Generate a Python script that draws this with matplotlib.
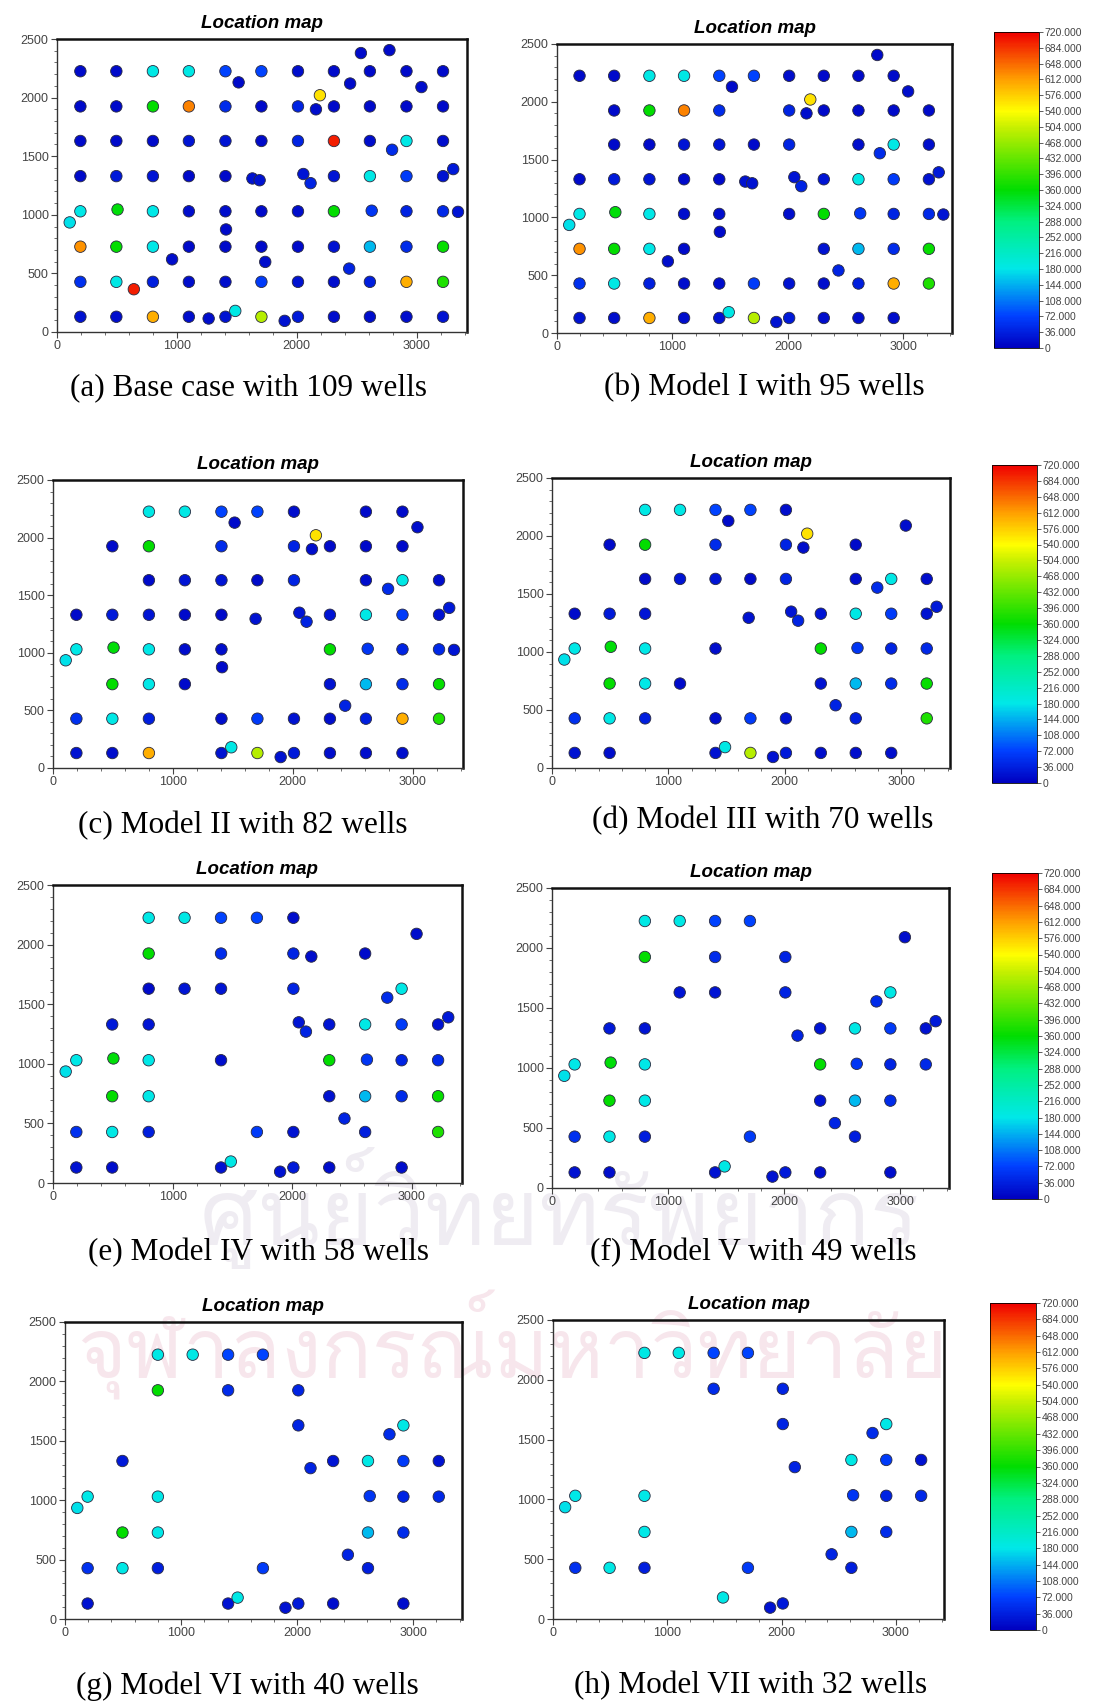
import numpy as np
import matplotlib.pyplot as plt
from matplotlib.colors import LinearSegmentedColormap, Normalize
from matplotlib.cm import ScalarMappable
from matplotlib import font_manager
from matplotlib.ft2font import FT2Font

# base case wells: x, y and colour value (0-720)
well_x = [195, 495, 800, 1100, 1405, 1705, 2010, 2310, 2610, 2915, 3220,
          1515, 2445, 2535, 2773, 3040, 2193,
          195, 495, 800, 1100, 1405, 1705, 2010, 2160, 2310, 2610, 2915, 3220,
          195, 495, 800, 1100, 1405, 1705, 2010, 2310, 2610, 2915, 3220, 2795,
          195, 495, 800, 1100, 1405, 1630, 1690, 2055, 2115, 2310, 2610, 2915, 3220, 3305,
          106, 195, 505, 800, 1100, 1405, 1705, 2010, 2310, 2625, 2915, 3220, 3345, 1410,
          195, 495, 800, 1100, 1405, 1705, 2010, 2310, 2610, 2915, 3220, 960, 1737, 2437,
          195, 495, 641, 800, 1100, 1405, 1705, 2010, 2310, 2610, 2915, 3220,
          195, 495, 800, 1100, 1265, 1405, 1487, 1705, 1899, 2010, 2310, 2610, 2915, 3220]
well_y = [2225, 2225, 2225, 2225, 2225, 2225, 2225, 2225, 2225, 2225, 2225,
          2130, 2120, 2380, 2405, 2090, 2020,
          1925, 1925, 1925, 1925, 1925, 1925, 1925, 1900, 1925, 1925, 1925, 1925,
          1630, 1630, 1630, 1630, 1630, 1630, 1630, 1630, 1630, 1630, 1630, 1555,
          1330, 1330, 1330, 1330, 1330, 1310, 1295, 1348, 1270, 1330, 1330, 1330, 1330, 1390,
          935, 1030, 1045, 1030, 1030, 1030, 1030, 1030, 1030, 1035, 1030, 1030, 1025, 875,
          728, 728, 728, 728, 728, 728, 728, 728, 728, 728, 728, 620, 598, 541,
          428, 428, 365, 428, 428, 428, 428, 428, 428, 428, 428, 428,
          130, 130, 130, 130, 115, 130, 180, 130, 95, 130, 130, 130, 130, 130]
well_v = [12, 12, 185, 185, 75, 75, 15, 12, 12, 12, 12,
          12, 12, 12, 12, 15, 560,
          12, 12, 360, 630, 50, 12, 40, 15, 12, 12, 12, 12,
          12, 12, 12, 25, 25, 12, 40, 700, 15, 185, 15, 50,
          12, 30, 25, 12, 12, 20, 20, 25, 40, 25, 185, 65, 20, 30,
          175, 180, 355, 180, 15, 15, 12, 15, 360, 60, 40, 45, 25, 12,
          620, 360, 180, 12, 12, 12, 12, 20, 150, 50, 365, 15, 15, 40,
          55, 185, 700, 35, 15, 15, 65, 20, 15, 35, 600, 380,
          20, 15, 600, 15, 15, 20, 185, 490, 20, 30, 15, 15, 15, 20]

# wells kept in each model (indices into the base case)
removed_model1 = [10, 12, 13, 17, 22, 29, 36, 61, 73, 74, 75, 81, 85, 99, 108]
keep_base = list(range(len(well_x)))
keep_model1 = [i for i in keep_base if i not in removed_model1]
keep_model2 = [2, 3, 4, 5, 6, 8, 9, 11, 15, 16,
               18, 19, 21, 23, 24, 25, 26, 27,
               31, 32, 33, 34, 35, 37, 38, 39, 40,
               41, 42, 43, 44, 45, 47, 48, 49, 50, 51, 52, 53, 54,
               55, 56, 57, 58, 59, 60, 63, 64, 65, 66, 67, 68,
               70, 71, 72, 76, 77, 78, 79, 82,
               83, 84, 86, 88, 89, 90, 91, 92, 93, 94,
               95, 96, 97, 100, 101, 102, 103, 104, 105, 106, 107]
keep_model3 = [2, 3, 4, 5, 6, 11, 15, 16,
               18, 19, 21, 23, 24, 26,
               31, 32, 33, 34, 35, 37, 38, 39, 40,
               41, 42, 43, 47, 48, 49, 50, 51, 52, 53, 54,
               55, 56, 57, 58, 60, 63, 64, 65, 66,
               70, 71, 72, 76, 77, 78, 79, 82,
               83, 84, 86, 88, 89, 90, 92, 94,
               95, 96, 100, 101, 102, 103, 104, 105, 106, 107]
keep_model4 = [2, 3, 4, 5, 6, 15,
               19, 21, 23, 24, 26,
               31, 32, 33, 35, 38, 40,
               42, 43, 48, 49, 50, 51, 52, 53, 54,
               55, 56, 57, 58, 60, 63, 64, 65, 66,
               70, 71, 76, 77, 78, 79, 82,
               83, 84, 86, 89, 90, 92, 94,
               95, 96, 100, 101, 103, 104, 105, 107]
keep_model5 = [2, 3, 4, 5, 15,
               19, 21, 23,
               32, 33, 35, 38, 40,
               42, 43, 49, 50, 51, 52, 53, 54,
               55, 56, 57, 58, 63, 64, 65, 66,
               70, 71, 76, 77, 78, 82,
               83, 84, 86, 89, 92,
               95, 96, 100, 101, 103, 104, 105, 107]
keep_model6 = [2, 3, 4, 5,
               19, 21, 23,
               35, 38, 40,
               42, 49, 50, 51, 52, 53,
               55, 56, 58, 64, 65, 66,
               70, 71, 77, 78, 82,
               83, 84, 86, 89, 92,
               95, 100, 101, 103, 104, 105, 107]
keep_model7 = [2, 3, 4, 5,
               21, 23,
               35, 38, 40,
               49, 51, 52, 53,
               55, 56, 58, 64, 65, 66,
               71, 77, 78,
               82, 83, 84, 86, 89, 92,
               101, 103, 104]

captions = ["(a) Base case with 109 wells", "(b) Model I with 95 wells",
            "(c) Model II with 82 wells", "(d) Model III with 70 wells",
            "(e) Model IV with 58 wells", "(f) Model V with 49 wells",
            "(g) Model VI with 40 wells", "(h) Model VII with 32 wells"]
keeps = [keep_base, keep_model1, keep_model2, keep_model3,
         keep_model4, keep_model5, keep_model6, keep_model7]
cbar_ticks = [0, 36, 72, 108, 144, 180, 216, 252, 288, 324, 360,
              396, 432, 468, 504, 540, 576, 612, 648, 684, 720]
watermark_lines = ["ศูนย์วิทยทรัพยากร", "จุฬาลงกรณ์มหาวิทยาลัย"]

W, H = 1099, 1707


def box(l, t, r, b):
    return [l / W, 1 - b / H, (r - l) / W, (b - t) / H]


# pixel boxes: left, top, right, bottom
panel_px = [(57, 39, 467, 332), (557, 44, 952, 333),
            (53, 480, 463, 768), (552, 478, 950, 768),
            (53, 885, 462, 1183), (552, 888, 949, 1188),
            (65, 1322, 462, 1619), (553, 1320, 944, 1619)]
caption_px = [(249, 388), (764, 388), (243, 826), (763, 821),
              (259, 1253), (753, 1253), (247, 1686), (751, 1686)]
cbar_px = [(994, 32, 1039, 348), (992, 465, 1037, 783),
           (992, 873, 1038, 1199), (990, 1303, 1036, 1630)]

cmap = LinearSegmentedColormap.from_list("wells", [
    (0.0, "#0000c0"), (0.1, "#0040ff"), (0.2, "#00b0f0"), (0.25, "#00e8e8"),
    (0.4, "#00f080"), (0.5, "#00dd00"), (0.7, "#c8f000"), (0.75, "#ffff00"),
    (0.85, "#ffa000"), (1.0, "#f00000")])
norm = Normalize(0, 720)

fig = plt.figure(figsize=(W / 100, H / 100), dpi=100)

# faint watermark, only if a Thai-capable font is installed
thai_font = None
for f in font_manager.fontManager.ttflist:
    try:
        if FT2Font(f.fname).get_char_index(ord("ก")):
            thai_font = f.name
            break
    except Exception:
        pass
if thai_font:
    fig.text(560 / W, 1 - 1208 / H, watermark_lines[0], family=thai_font,
             fontsize=66, color="#efecf2", ha="center", va="center", zorder=-5)
    fig.text(512 / W, 1 - 1345 / H, watermark_lines[1], family=thai_font,
             fontsize=60, color="#f7e6ec", ha="center", va="center", zorder=-5)

xs = np.array(well_x)
ys = np.array(well_y)
vs = np.array(well_v)

for k in range(8):
    ax = fig.add_axes(box(*panel_px[k]))
    ax.patch.set_alpha(0)
    idx = keeps[k]
    ax.scatter(xs[idx], ys[idx], c=vs[idx], cmap=cmap, norm=norm, s=68,
               edgecolors="#2a2a40", linewidths=0.6, zorder=3)
    ax.set_xlim(0, 3420)
    ax.set_ylim(0, 2500)
    ax.set_xticks([0, 1000, 2000, 3000])
    ax.set_xticks(np.arange(0, 3401, 200), minor=True)
    ax.set_yticks([0, 500, 1000, 1500, 2000, 2500])
    ax.set_yticks(np.arange(0, 2501, 100), minor=True)
    ax.tick_params(which="major", length=4, width=0.8, color="#444",
                   labelsize=9, labelcolor="#444", pad=2)
    ax.tick_params(which="minor", length=2.5, width=0.6, color="#555")
    for lab in ax.get_xticklabels() + ax.get_yticklabels():
        lab.set_family("Liberation Sans")
    for side in ["left", "bottom"]:
        ax.spines[side].set_linewidth(1.0)
        ax.spines[side].set_color("#333")
    for side in ["top", "right"]:
        ax.spines[side].set_linewidth(1.8)
        ax.spines[side].set_color("#111")
    ax.set_title("Location map", fontsize=13.5, fontweight="bold",
                 fontstyle="italic", family="Liberation Sans", pad=8)
    cx, cy = caption_px[k]
    fig.text(cx / W, 1 - cy / H, captions[k], family="Liberation Serif",
             fontsize=22.5, ha="center", va="center")

for l, t, r, b in cbar_px:
    cax = fig.add_axes(box(l, t, r, b))
    cb = fig.colorbar(ScalarMappable(norm=norm, cmap=cmap), cax=cax)
    cb.set_ticks(cbar_ticks)
    cb.set_ticklabels(["0"] + ["%.3f" % v for v in cbar_ticks[1:]])
    cb.outline.set_linewidth(0.6)
    cax.tick_params(length=3, width=0.6, labelsize=7.5, labelcolor="#444",
                    color="#444", pad=1)
    for lab in cax.get_yticklabels():
        lab.set_family("Liberation Sans")

fig.savefig("out.png", dpi=100)
